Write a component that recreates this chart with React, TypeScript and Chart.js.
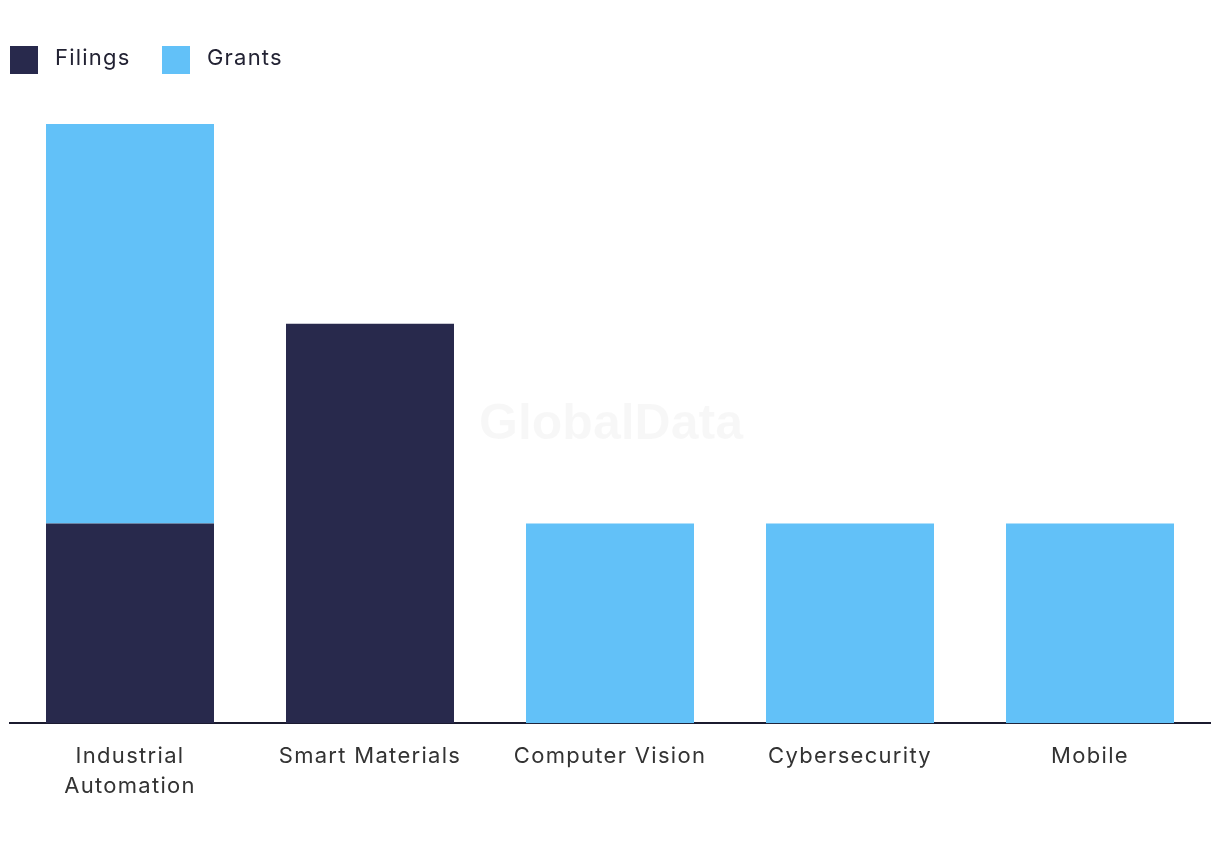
import React, { useEffect, useRef } from "react";
import { Chart, registerables } from "chart.js";

Chart.register(...registerables);

const categories: (string | string[])[] = [
  ["Industrial", "Automation"],
  "Smart Materials",
  "Computer Vision",
  "Cybersecurity",
  "Mobile",
];
const filings: number[] = [1, 2, 0, 0, 0];
const grants: number[] = [2, 0, 1, 1, 1];
const seriesNames: string[] = ["Filings", "Grants"];
const seriesColors: string[] = ["#28294C", "#62C1F8"];

const FONT = "Inter, 'Noto Sans', sans-serif";

const spacing = {
  id: "spacing",
  beforeDraw(chart: any) {
    (chart.ctx as any).letterSpacing = "1.3px";
  },
};

const watermark = {
  id: "watermark",
  beforeDatasetsDraw(chart: any) {
    const { ctx } = chart;
    ctx.save();
    (ctx as any).letterSpacing = "0px";
    ctx.font = "bold 50px 'Liberation Sans', Arial, sans-serif";
    ctx.fillStyle = "rgba(0,0,0,0.03)";
    ctx.textAlign = "center";
    ctx.textBaseline = "middle";
    ctx.fillText("GlobalData", 611, 425);
    ctx.restore();
    (ctx as any).letterSpacing = "1.3px";
  },
};

export default function App() {
  const ref = useRef<HTMLCanvasElement | null>(null);
  useEffect(() => {
    if (!ref.current) return;
    const chart = new Chart(ref.current, {
      type: "bar",
      data: {
        labels: categories,
        datasets: [
          { label: seriesNames[0], data: filings, backgroundColor: seriesColors[0] },
          { label: seriesNames[1], data: grants, backgroundColor: seriesColors[1] },
        ],
      },
      options: {
        responsive: false,
        animation: false,
        layout: { padding: { top: 124, left: 10, right: 10, bottom: 0 } },
        plugins: {
          legend: { display: false },
          tooltip: { enabled: false },
        },
        datasets: { bar: { categoryPercentage: 1, barPercentage: 0.7 } },
        scales: {
          x: {
            stacked: true,
            grid: { display: false, drawTicks: false },
            border: { display: true, color: "#1b1b2f", width: 2 },
            ticks: {
              color: "#333333",
              font: { family: FONT, size: 22, lineHeight: 1.36 },
              padding: 18,
              maxRotation: 0,
              autoSkip: false,
            },
          },
          y: {
            stacked: true,
            display: false,
            min: 0,
            max: 3,
          },
        },
      },
      plugins: [spacing, watermark],
    });
    return () => chart.destroy();
  }, []);

  const legendItem = (i: number, left: number) => (
    <div key={i} style={{ position: "absolute", left, top: 46, display: "flex", alignItems: "center" }}>
      <div style={{ width: 28, height: 28, background: seriesColors[i] }} />
      <span
        style={{
          marginLeft: 17,
          fontFamily: FONT,
          fontSize: 22,
          color: "#222233",
          lineHeight: "28px",
          letterSpacing: "1.2px",
          position: "relative",
          top: -3,
        }}
      >
        {seriesNames[i]}
      </span>
    </div>
  );

  return (
    <div style={{ position: "fixed", left: 0, top: 0, width: 1220, height: 850, background: "#ffffff" }}>
      <canvas ref={ref} width={1220} height={819} style={{ position: "absolute", left: 0, top: 0 }} />
      {legendItem(0, 10)}
      {legendItem(1, 162)}
    </div>
  );
}
